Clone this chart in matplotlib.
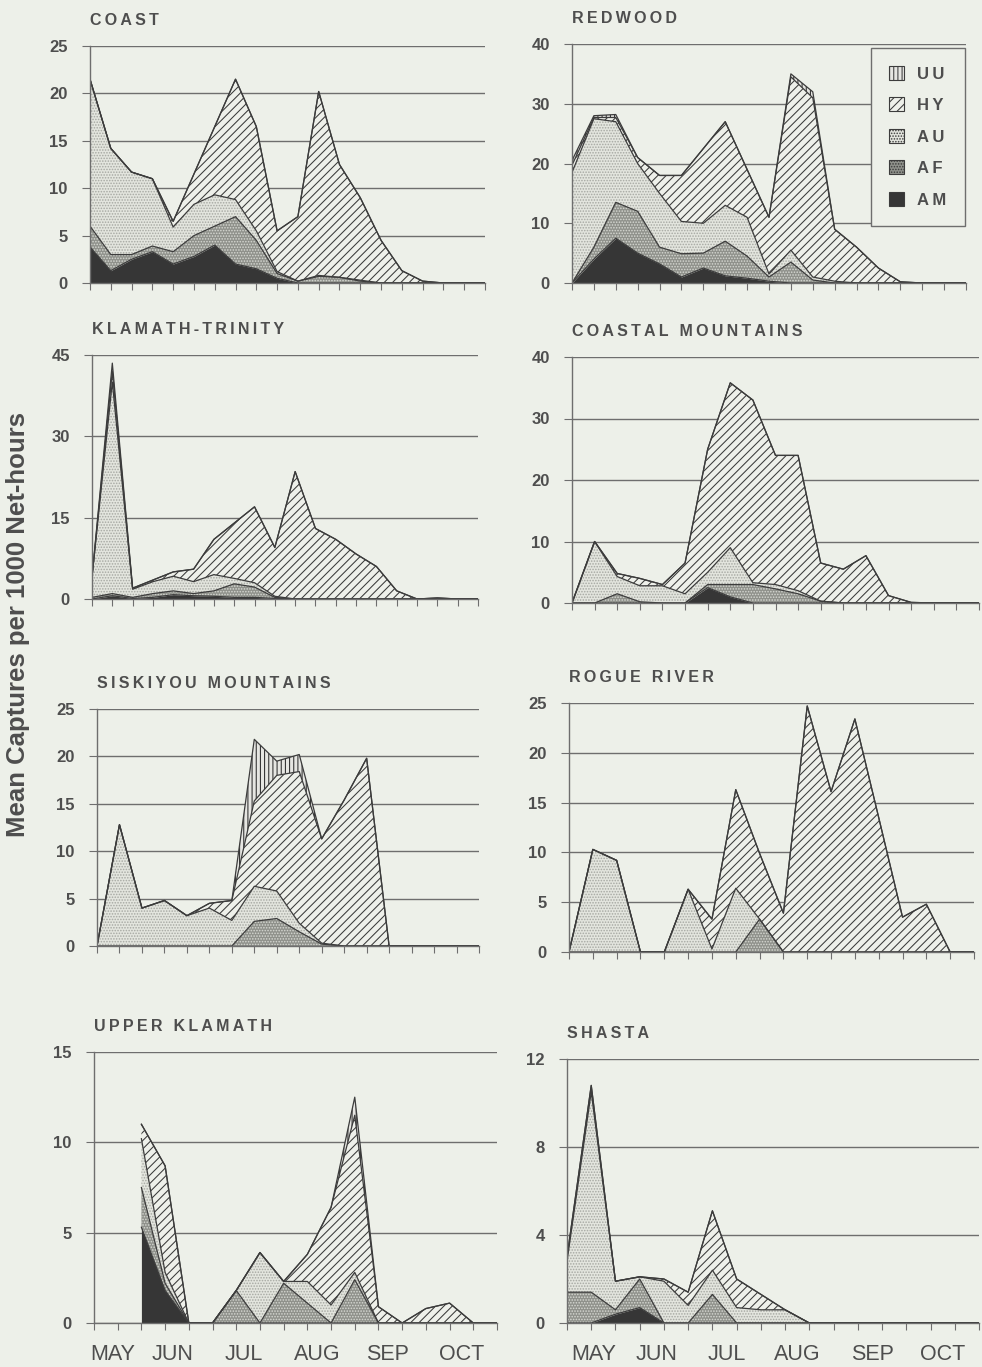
import numpy as np
import matplotlib
matplotlib.use('Agg')
import matplotlib.pyplot as plt
from matplotlib.patches import Patch

plt.rcParams['font.family'] = ['Liberation Sans', 'DejaVu Sans']
plt.rcParams['hatch.linewidth'] = 0.75

BG = '#edf0e9'
INK = '#4e4e4e'
GRID = '#6e6e6e'
LINE = '#3c3c3c'
nan = np.nan

SERIES = ['AM', 'AF', 'AU', 'HY', 'UU']
MONTHS = ['MAY', 'JUN', 'JUL', 'AUG', 'SEP', 'OCT']

# values per 10-day period
coast_am = [3.8, 1.3, 2.5, 3.3, 2.0, 2.8, 4.0, 2.0, 1.5, 0.5, 0, 0, 0, 0, 0, 0, 0, 0, 0, 0]
coast_af = [2.2, 1.7, 0.5, 0.6, 1.3, 2.2, 2.0, 5.0, 3.0, 0.5, 0.2, 0.7, 0.6, 0.2, 0, 0, 0, 0, 0, 0]
coast_au = [15.5, 11.2, 8.7, 7.1, 2.6, 3.3, 3.3, 1.8, 1.0, 0.2, 0, 0.1, 0, 0.1, 0, 0, 0, 0, 0, 0]
coast_hy = [0, 0, 0, 0, 0.6, 3.2, 7.2, 12.7, 11.0, 4.3, 6.8, 19.4, 11.9, 8.7, 4.5, 1.3, 0.2, 0, 0, 0]
coast_uu = [0] * 20

redwood_am = [0, 4, 7.5, 5, 3.2, 1.0, 2.5, 1.2, 0.8, 0.3, 0, 0, 0, 0, 0, 0, 0, 0, 0]
redwood_af = [0, 2, 6, 7, 2.8, 3.9, 2.5, 5.8, 3.7, 0.7, 3.5, 0.5, 0, 0, 0, 0, 0, 0, 0]
redwood_au = [18.5, 21.5, 13.5, 8, 9, 5.4, 5, 6, 6.5, 0.5, 2, 0.5, 0.3, 0, 0, 0, 0, 0, 0]
redwood_hy = [1.2, 0.2, 0.7, 1, 3, 7.7, 12.5, 14, 8, 9.5, 29, 30, 8.7, 6, 2.5, 0.2, 0, 0, 0]
redwood_uu = [0.8, 0.3, 0.5, 0, 0, 0, 0, 0, 0, 0, 0.5, 1.0, 0, 0, 0, 0, 0, 0, 0]

kt_am = [0, 0.6, 0.1, 0.3, 0.8, 0.6, 0.5, 0.3, 0.3, 0.1, 0, 0, 0, 0, 0, 0, 0, 0, 0, 0]
kt_af = [0.3, 0.4, 0.2, 0.7, 0.7, 0.4, 1.0, 2.5, 1.9, 0.2, 0, 0, 0, 0, 0, 0, 0, 0, 0, 0]
kt_au = [3.7, 39, 1.5, 2.2, 2.7, 2.2, 3.0, 1.0, 0.8, 0.2, 0, 0, 0, 0, 0, 0, 0, 0, 0, 0]
kt_hy = [0, 2, 0.2, 0.3, 0.8, 2.3, 6.5, 10.2, 14, 9, 23.5, 13, 11, 8.3, 6, 1.5, 0, 0.2, 0, 0]
kt_uu = [0, 1.5, 0, 0, 0, 0, 0, 0, 0, 0, 0, 0, 0, 0, 0, 0, 0, 0, 0, 0]

cm_am = [0, 0, 0, 0, 0, 0, 2.5, 1.0, 0, 0, 0, 0, 0, 0, 0, 0, 0, 0, 0]
cm_af = [0, 0, 1.5, 0.2, 0, 0, 0.5, 2.0, 3.0, 2.3, 1.5, 0.3, 0, 0, 0, 0, 0, 0, 0]
cm_au = [0, 10, 2.8, 2.6, 2.8, 1.5, 2.0, 6.0, 0.3, 0.7, 0.5, 0, 0, 0, 0, 0, 0, 0, 0]
cm_hy = [0, 0, 0.5, 1.2, 0.2, 5.0, 20, 26.8, 29.7, 21, 22, 6.2, 5.5, 7.7, 1.2, 0.1, 0, 0, 0]
cm_uu = [0] * 19

sisk_am = [0] * 18
sisk_af = [0, 0, 0, 0, 0, 0, 0, 2.6, 2.9, 1.5, 0.2, 0, 0, 0, 0, 0, 0, 0]
sisk_au = [0, 12.8, 4, 4.8, 3.2, 4, 2.7, 3.7, 2.9, 0.9, 0.1, 0, 0, 0, 0, 0, 0, 0]
sisk_hy = [0, 0, 0, 0, 0, 0.5, 2.1, 9, 12.2, 16, 11, 15.4, 19.8, 0, 0, 0, 0, 0]
sisk_uu = [0, 0, 0, 0, 0, 0, 0, 6.5, 1.5, 1.8, 0, 0, 0, 0, 0, 0, 0, 0]

rogue_am = [0] * 18
rogue_af = [0, 0, 0, 0, 0, 0, 0, 0, 3.3, 0, 0, 0, 0, 0, 0, 0, 0, 0]
rogue_au = [0, 10.3, 9.2, 0, 0, 6.3, 0.3, 6.4, 0, 0, 0, 0, 0, 0, 0, 0, 0, 0]
rogue_hy = [0, 0, 0, 0, 0, 0, 3.0, 9.9, 6.6, 3.9, 24.7, 16.1, 23.4, 13.5, 3.5, 4.8, 0, 0]
rogue_uu = [0] * 18

uk_am = [nan, nan, 5.3, 1.8, 0, 0, 0, 0, 0, 0, 0, 0, 0, 0, 0, 0, 0, 0]
uk_af = [nan, nan, 2.2, 0.4, 0, 0, 1.8, 0, 2.2, 1.1, 0, 2.4, 0, 0, 0, 0, 0, 0]
uk_au = [nan, nan, 2.7, 0.6, 0, 0, 0, 3.9, 0.1, 1.2, 1.0, 0.4, 0, 0, 0, 0, 0, 0]
uk_hy = [nan, nan, 0.8, 5.9, 0, 0, 0, 0, 0, 1.5, 5.4, 8.7, 0.9, 0, 0.8, 1.1, 0, 0]
uk_uu = [nan, nan, 0, 0, 0, 0, 0, 0, 0, 0, 0, 1.0, 0, 0, 0, 0, 0, 0]

shasta_am = [0, 0, 0.4, 0.7, 0, 0, 0, 0, 0, 0, 0, 0, 0, 0, 0, 0, 0, 0]
shasta_af = [1.4, 1.4, 0.2, 1.3, 0, 0, 1.3, 0, 0, 0, 0, 0, 0, 0, 0, 0, 0, 0]
shasta_au = [1.4, 9.1, 1.3, 0.1, 1.9, 0.8, 1.1, 0.7, 0.6, 0.6, 0, 0, 0, 0, 0, 0, 0, 0]
shasta_hy = [0.2, 0.3, 0, 0, 0.1, 0.6, 2.7, 1.3, 0.7, 0, 0, 0, 0, 0, 0, 0, 0, 0]
shasta_uu = [0] * 18

uk_month_pos = [0.8, 3.3, 6.3, 9.4, 12.4, 15.5]
shasta_month_pos = [1.1, 3.7, 6.6, 9.5, 12.6, 15.5]

# face, hatch, hatch colour for AM, AF, AU, HY, UU
STYLES = [
    ('#363636', None, '#363636'),
    ('#8f918b', '......', '#d6d8d2'),
    ('#e3e5de', '......', '#a6a8a2'),
    ('#eef0ea', '////', '#3a3a3a'),
    ('#e6e6e2', '||||', '#2c2c2c'),
]


def spaced(s):
    return '\u2009'.join(s)


def draw_panel(ax, name, layers, ymax, ystep, month_pos=None):
    n = len(layers[0])
    x = np.arange(n)
    base = np.zeros(n)
    for vals, (face, hatch, hcol) in zip(layers, STYLES):
        top = base + np.asarray(vals, dtype=float)
        ax.fill_between(x, base, top, facecolor=face, edgecolor=hcol,
                        hatch=hatch, linewidth=0, zorder=2)
        ax.plot(x, top, color=LINE, lw=0.9, zorder=3)
        base = top

    ax.set_facecolor(BG)
    ax.set_xlim(0, n - 1)
    ax.set_ylim(0, ymax)
    ax.set_yticks(np.arange(0, ymax + 0.01, ystep))
    ax.yaxis.grid(True, color=GRID, lw=1.0)
    ax.set_axisbelow(True)
    for side in ['top', 'right']:
        ax.spines[side].set_visible(False)
    for side in ['left', 'bottom']:
        ax.spines[side].set_color(GRID)
        ax.spines[side].set_linewidth(1.0)
        ax.spines[side].set_zorder(4)
    ax.tick_params(axis='y', length=6, pad=10, labelsize=12,
                   labelcolor=INK, color=GRID)
    plt.setp(ax.get_yticklabels(), fontweight='bold')
    ax.set_xticks(x)
    ax.set_xticklabels([])
    ax.tick_params(axis='x', which='major', length=5, color=GRID)
    if month_pos is not None:
        ax.set_xticks(month_pos, minor=True)
        ax.set_xticklabels(MONTHS, minor=True)
        ax.tick_params(axis='x', which='minor', length=0, pad=15,
                       labelsize=15.5, labelcolor=INK)
    ax.set_title(spaced(name), loc='left', pad=15, fontsize=11.5,
                 fontweight='bold', color=INK)


fig = plt.figure(figsize=(9.82, 13.67), dpi=100, facecolor=BG)

panels = [
    ('COAST', [coast_am, coast_af, coast_au, coast_hy, coast_uu], 25, 5,
     [90, 46, 485, 283], None),
    ('REDWOOD', [redwood_am, redwood_af, redwood_au, redwood_hy, redwood_uu], 40, 10,
     [572, 44, 966, 283], None),
    ('KLAMATH-TRINITY', [kt_am, kt_af, kt_au, kt_hy, kt_uu], 45, 15,
     [92, 355, 478, 599], None),
    ('COASTAL MOUNTAINS', [cm_am, cm_af, cm_au, cm_hy, cm_uu], 40, 10,
     [572, 357, 979, 603], None),
    ('SISKIYOU MOUNTAINS', [sisk_am, sisk_af, sisk_au, sisk_hy, sisk_uu], 25, 5,
     [97, 709, 479, 946], None),
    ('ROGUE RIVER', [rogue_am, rogue_af, rogue_au, rogue_hy, rogue_uu], 25, 5,
     [569, 703, 974, 952], None),
    ('UPPER KLAMATH', [uk_am, uk_af, uk_au, uk_hy, uk_uu], 15, 5,
     [94, 1052, 497, 1323], uk_month_pos),
    ('SHASTA', [shasta_am, shasta_af, shasta_au, shasta_hy, shasta_uu], 12, 4,
     [567, 1059, 979, 1323], shasta_month_pos),
]

W, H = 982.0, 1367.0
axes = {}
for name, layers, ymax, ystep, (x0, y0, x1, y1), mpos in panels:
    ax = fig.add_axes([x0 / W, 1 - y1 / H, (x1 - x0) / W, (y1 - y0) / H])
    draw_panel(ax, name, layers, ymax, ystep, mpos)
    axes[name] = ax

handles = [Patch(facecolor=f, edgecolor=LINE, hatch=h, linewidth=0.8)
           for f, h, c in STYLES]
leg = axes['REDWOOD'].legend(handles[::-1], [spaced(s) for s in SERIES[::-1]],
                             loc='upper right', bbox_to_anchor=(0.997, 0.985),
                             borderaxespad=0, fontsize=12, handlelength=0.9,
                             handleheight=0.9, handletextpad=0.8,
                             labelspacing=0.95, borderpad=1.1, fancybox=False,
                             framealpha=1, facecolor=BG, edgecolor=GRID)
leg.get_frame().set_linewidth(1.0)
for t in leg.get_texts():
    t.set_color(INK)
    t.set_fontweight('bold')
leg.set_zorder(10)

fig.text(0.018, 0.543, 'Mean Captures per 1000 Net-hours', rotation=90,
         ha='center', va='center', fontsize=18.5, fontweight='bold', color=INK)

fig.savefig('out.png', dpi=100, facecolor=BG)
